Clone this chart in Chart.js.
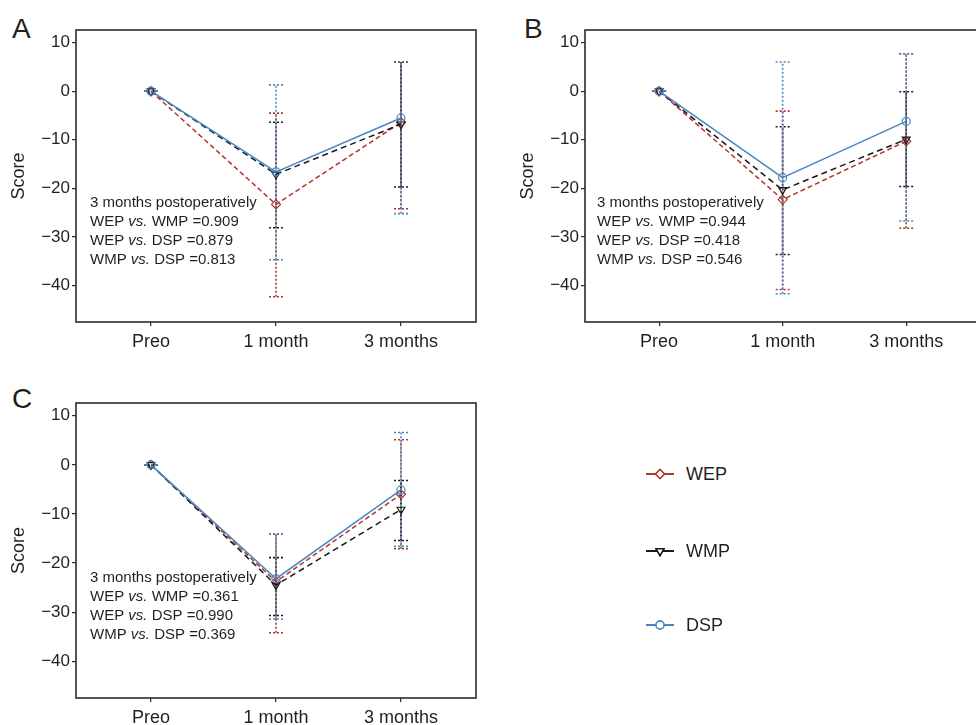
<!DOCTYPE html>
<html><head><meta charset="utf-8">
<script src="https://cdn.jsdelivr.net/npm/chart.js@4.4.1/dist/chart.umd.min.js"></script>
<style>
body{margin:0;width:976px;height:725px;overflow:hidden;background:#fff;position:relative;font-family:"Liberation Sans",Arial,sans-serif;color:#231f20;}
canvas{position:absolute;}
.lab{position:absolute;font-size:28px;line-height:28px;color:#231f20;}
.leg{position:absolute;left:645px;height:20px;display:flex;align-items:center;font-size:18px;}
.leg canvas{position:static;margin-right:11px;}
</style></head><body>
<div class="lab" style="left:12px;top:15px">A</div>
<div class="lab" style="left:524px;top:15px">B</div>
<div class="lab" style="left:12px;top:385px">C</div>
<canvas id="cA" width="488" height="360" style="left:0;top:0"></canvas>
<canvas id="cB" width="477" height="360" style="left:509px;top:0"></canvas>
<canvas id="cC" width="488" height="355" style="left:0;top:370px"></canvas>
<div id="legend"></div>
<script>
// ---------- data ----------
const timepoints = ['Preo', '1 month', '3 months'];
const seriesNames = ['WEP', 'WMP', 'DSP'];
const yTickValues = [10, 0, -10, -20, -30, -40];

// Panel A
const A_WEP = [0, -23.3, -6.4];  const A_WEP_lo = [0, -42.3, -24.2]; const A_WEP_hi = [0, -4.5, 6.0];
const A_WMP = [0, -17.1, -6.8];  const A_WMP_lo = [0, -28.1, -19.7]; const A_WMP_hi = [0, -6.4, 6.0];
const A_DSP = [0, -16.6, -5.5];  const A_DSP_lo = [0, -34.7, -25.2]; const A_DSP_hi = [0, 1.3, 6.0];
const A_pvalues = ['0.909', '0.879', '0.813'];

// Panel B
const B_WEP = [0, -22.3, -10.3]; const B_WEP_lo = [0, -40.8, -28.2]; const B_WEP_hi = [0, -4.1, 7.7];
const B_WMP = [0, -20.3, -9.9];  const B_WMP_lo = [0, -33.6, -19.6]; const B_WMP_hi = [0, -7.3, -0.1];
const B_DSP = [0, -17.8, -6.2];  const B_DSP_lo = [0, -41.7, -26.7]; const B_DSP_hi = [0, 6.0, 7.7];
const B_pvalues = ['0.944', '0.418', '0.546'];

// Panel C
const C_WEP = [0, -23.8, -6.0];  const C_WEP_lo = [0, -34.2, -17.1]; const C_WEP_hi = [0, -14.1, 5.1];
const C_WMP = [0, -24.5, -9.1];  const C_WMP_lo = [0, -30.7, -15.4]; const C_WMP_hi = [0, -18.9, -3.2];
const C_DSP = [0, -23.2, -5.1];  const C_DSP_lo = [0, -31.4, -16.6]; const C_DSP_hi = [0, -14.1, 6.6];
const C_pvalues = ['0.361', '0.990', '0.369'];

const comparisons = [['WEP', 'WMP'], ['WEP', 'DSP'], ['WMP', 'DSP']];
const annotationTitle = '3 months postoperatively';

// ---------- styles ----------
const FONT = '"Liberation Sans", Arial, sans-serif';
const TXT = '#231f20';
const styles = {
  WEP: {color: '#b2352b', dash: [5, 3], point: 'rectRot', rot: 0, r: 4.5},
  WMP: {color: '#1a1a1a', dash: [6, 4], point: 'triangle', rot: 180, r: 4.5},
  DSP: {color: '#4a87c2', dash: [], point: 'circle', rot: 0, r: 4}
};

function makeDatasets(vals) {
  return seriesNames.map((name, i) => ({
    label: name,
    data: vals[i].mean.map((v, k) => ({x: k, y: v})),
    lo: vals[i].lo, hi: vals[i].hi,
    borderColor: styles[name].color,
    borderWidth: 1.5,
    borderDash: styles[name].dash,
    pointStyle: styles[name].point,
    pointRotation: styles[name].rot,
    pointRadius: styles[name].r,
    pointBorderWidth: 1.2,
    pointBorderColor: styles[name].color,
    pointBackgroundColor: 'rgba(255,255,255,0)',
    tension: 0,
    order: [3, 2, 1][i]
  }));
}

const errorBarPlugin = {
  id: 'errbars',
  beforeDatasetsDraw(chart) {
    const ctx = chart.ctx, xs = chart.scales.x, ys = chart.scales.y;
    ctx.save();
    ctx.lineWidth = 1.6;
    ctx.setLineDash([2, 2]);
    chart.data.datasets.forEach(ds => {
      ctx.strokeStyle = ds.borderColor;
      ds.data.forEach((p, k) => {
        const x = xs.getPixelForValue(p.x);
        const yl = ys.getPixelForValue(ds.lo[k]);
        const yh = ys.getPixelForValue(ds.hi[k]);
        ctx.beginPath();
        ctx.moveTo(x, yl); ctx.lineTo(x, yh);
        ctx.moveTo(x - 7, yl); ctx.lineTo(x + 7, yl);
        ctx.moveTo(x - 7, yh); ctx.lineTo(x + 7, yh);
        ctx.stroke();
      });
    });
    ctx.restore();
  }
};

const boxPlugin = {
  id: 'box',
  afterDraw(chart) {
    const a = chart.chartArea, ctx = chart.ctx;
    ctx.save();
    ctx.strokeStyle = '#2b2b2b';
    ctx.lineWidth = 1.6;
    ctx.strokeRect(a.left, a.top, a.right - a.left, a.bottom - a.top);
    ctx.restore();
  }
};

const annotPlugin = {
  id: 'annot',
  afterDatasetsDraw(chart, args, opts) {
    const ctx = chart.ctx, ys = chart.scales.y;
    const x0 = chart.chartArea.left + opts.dx;
    let y = ys.getPixelForValue(-23);
    ctx.save();
    ctx.fillStyle = TXT;
    ctx.textBaseline = 'middle';
    ctx.textAlign = 'left';
    ctx.font = '15px ' + FONT;
    ctx.fillText(annotationTitle, x0, y);
    comparisons.forEach((c, i) => {
      y += 19;
      let x = x0;
      const parts = [[c[0] + ' ', false], ['vs.', true], [' ' + c[1] + ' =' + opts.p[i], false]];
      parts.forEach(([t, it]) => {
        ctx.font = (it ? 'italic ' : '') + '15px ' + FONT;
        ctx.fillText(t, x, y);
        x += ctx.measureText(t).width;
      });
    });
    ctx.restore();
  }
};

function makeChart(id, vals, pvals, opt) {
  return new Chart(document.getElementById(id), {
    type: 'line',
    data: {datasets: makeDatasets(vals)},
    plugins: [errorBarPlugin, boxPlugin, annotPlugin],
    options: {
      responsive: false,
      animation: false,
      devicePixelRatio: 1,
      layout: {padding: {top: opt.top, left: 0, right: opt.right, bottom: 0}},
      plugins: {legend: {display: false}, tooltip: {enabled: false}, annot: {p: pvals, dx: opt.dx}},
      scales: {
        x: {
          type: 'linear', min: -0.6, max: 2.6,
          afterBuildTicks: s => { s.ticks = timepoints.map((t, k) => ({value: k})); },
          afterFit: s => { s.height = opt.xh; },
          ticks: {callback: v => timepoints[v], font: {family: FONT, size: 18}, color: TXT, padding: 5, maxRotation: 0, autoSkip: false},
          grid: {drawOnChartArea: false, drawTicks: true, tickLength: 4, color: '#2b2b2b', lineWidth: 1.2},
          border: {display: false}
        },
        y: {
          min: -47.5, max: 12.6,
          afterBuildTicks: s => { s.ticks = yTickValues.map(v => ({value: v})); },
          afterFit: s => { s.width = 76; },
          ticks: {callback: v => (v < 0 ? '\u2212' + Math.abs(v) : String(v)), font: {family: FONT, size: 17}, color: TXT, padding: 2},
          grid: {drawOnChartArea: false, drawTicks: true, tickLength: 4, color: '#2b2b2b', lineWidth: 1.2},
          border: {display: false},
          title: {display: true, text: 'Score', font: {family: FONT, size: 18}, color: TXT, padding: {top: 8, bottom: 0}}
        }
      }
    }
  });
}

function pack(w, wl, wh, m, ml, mh, d, dl, dh) {
  return [{mean: w, lo: wl, hi: wh}, {mean: m, lo: ml, hi: mh}, {mean: d, lo: dl, hi: dh}];
}

makeChart('cA', pack(A_WEP, A_WEP_lo, A_WEP_hi, A_WMP, A_WMP_lo, A_WMP_hi, A_DSP, A_DSP_lo, A_DSP_hi), A_pvalues, {top: 30, right: 12, xh: 38, dx: 14});
makeChart('cB', pack(B_WEP, B_WEP_lo, B_WEP_hi, B_WMP, B_WMP_lo, B_WMP_hi, B_DSP, B_DSP_lo, B_DSP_hi), B_pvalues, {top: 30, right: 0, xh: 38, dx: 12});
makeChart('cC', pack(C_WEP, C_WEP_lo, C_WEP_hi, C_WMP, C_WMP_lo, C_WMP_hi, C_DSP, C_DSP_lo, C_DSP_hi), C_pvalues, {top: 33, right: 12, xh: 27, dx: 14});

// ---------- legend ----------
const legendY = [474, 551, 625];
const legEl = document.getElementById('legend');
seriesNames.forEach((name, i) => {
  const row = document.createElement('div');
  row.className = 'leg';
  row.style.top = (legendY[i] - 10) + 'px';
  const cv = document.createElement('canvas');
  cv.width = 30; cv.height = 20;
  const ctx = cv.getContext('2d');
  const st = styles[name];
  ctx.strokeStyle = st.color; ctx.lineWidth = 2;
  ctx.beginPath(); ctx.moveTo(1, 10); ctx.lineTo(29, 10); ctx.stroke();
  ctx.fillStyle = '#fff'; ctx.lineWidth = 1.5;
  Chart.helpers.drawPoint(ctx, {pointStyle: st.point, rotation: st.rot, radius: st.r, borderWidth: 1.5}, 15, 10);
  ctx.fill(); ctx.stroke();
  row.appendChild(cv);
  const sp = document.createElement('span');
  sp.textContent = name;
  row.appendChild(sp);
  legEl.appendChild(row);
});
</script>
</body></html>
